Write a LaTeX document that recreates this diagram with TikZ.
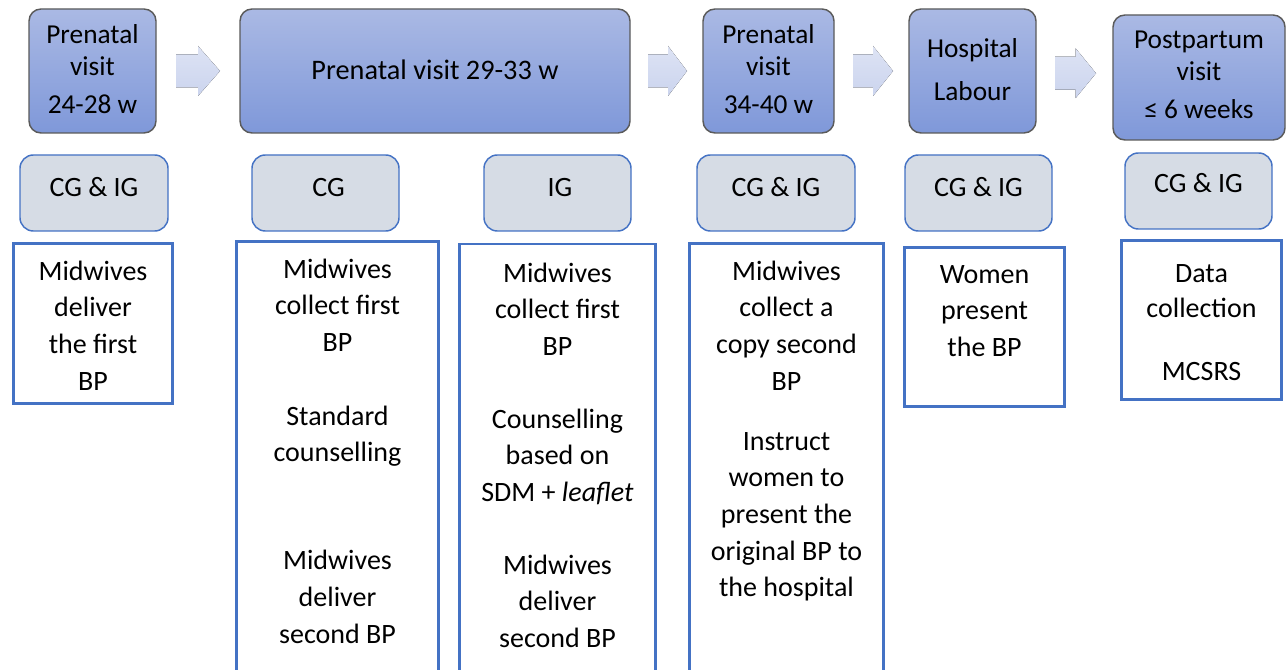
\documentclass[tikz,border=0pt]{standalone}
\usepackage{fontspec}
\setmainfont{Carlito}
\usetikzlibrary{fit,calc}
\definecolor{frameblue}{HTML}{4472C4}
\definecolor{greyfill}{HTML}{D6DCE5}
\definecolor{stageTop}{HTML}{AAB9E4}
\definecolor{stageBot}{HTML}{7F98D9}
\definecolor{stageLine}{HTML}{5A5A5A}
\definecolor{arrowTop}{HTML}{DDE3F4}
\definecolor{arrowBot}{HTML}{CBD4EE}
\tikzset{
  stage/.style={draw=stageLine, line width=1.1pt, rounded corners=9pt,
    top color=stageTop, bottom color=stageBot, inner sep=0pt},
  group/.style={draw=frameblue, line width=1.1pt, rounded corners=10pt,
    fill=greyfill, inner sep=0pt},
  panel/.style={draw=frameblue, line width=2.2pt, fill=white, inner sep=0pt},
  body/.style={font=\fontsize{21}{27.5}\selectfont, align=center,
    inner sep=0pt, anchor=north},
  head/.style={font=\fontsize{20.5}{24}\selectfont, align=center,
    inner sep=0pt, anchor=north},
  label/.style={font=\fontsize{21}{27.5}\selectfont, inner sep=0pt, anchor=base},
  flow/.style={top color=arrowTop, bottom color=arrowBot, draw=none}
}
\begin{document}
\begin{tikzpicture}[x=0.75pt, y=-0.75pt]
\useasboundingbox (0,0) rectangle (1286,670);
\fill[white] (0,0) rectangle (1286,670);
\clip (0,0) rectangle (1286,670);

% stage boxes
\node[stage, fit={(29,9) (156,133)}] (p1) {};
\node[stage, fit={(240,9) (630,133)}] (p2) {};
\node[stage, fit={(703,9) (834,133)}] (p3) {};
\node[stage, fit={(909,9) (1036,133)}] (p4) {};
\node[stage, fit={(1113,15) (1285,140)}] (p5) {};

\node[head] (h1) at (92.5,20.6) {\strut Prenatal\\visit\\[4.5pt]24-28 w};
\node[label, font=\fontsize{21.2}{24}\selectfont] (h2) at (435,80) {Prenatal visit 29-33 w};
\node[head] (h3) at (768.5,20.6) {\strut Prenatal\\visit\\[4.5pt]34-40 w};
\node[head] (h4) at (972.5,34.6) {\strut Hospital\\[8.25pt]Labour};
\node[head] (h5) at (1199,25.6) {\strut Postpartum\\visit\\[4.5pt]≤ 6 weeks};

% block arrows between stages
\coordinate (a1) at ($(p1.east)!0.5!(p2.west)$);
\coordinate (a2) at ($(p2.east)!0.5!(p3.west)+(1,0)$);
\coordinate (a3) at ($(p3.east)!0.5!(p4.west)+(1.5,0)$);
\coordinate (a4) at ($(p4.east)!0.5!(p5.west)+(1,-1)$);
\fill[flow, shift={(a1)}] (-22,-16.5) -- (0,-16.5) -- (0,-25) -- (22,0) -- (0,25) -- (0,16.5) -- (-22,16.5) -- cycle;
\fill[flow, shift={(a2)}] (-19.5,-16.5) -- (0.5,-16.5) -- (0.5,-25) -- (19.5,0) -- (0.5,25) -- (0.5,16.5) -- (-19.5,16.5) -- cycle;
\fill[flow, shift={(a3)}] (-20,-16.5) -- (0,-16.5) -- (0,-25) -- (20,0) -- (0,25) -- (0,16.5) -- (-20,16.5) -- cycle;
\fill[flow, shift={(a4)}] (-20.5,-16.5) -- (0,-16.5) -- (0,-25) -- (20.5,0) -- (0,25) -- (0,16.5) -- (-20.5,16.5) -- cycle;

% group labels
\node[group, fit={(20,155) (168,231)}] (g1) {};
\node[group, fit={(252,155) (399,231)}] (g2) {};
\node[group, fit={(484,155) (631,231)}] (g3) {};
\node[group, fit={(697,155) (855,231)}] (g4) {};
\node[group, fit={(905,155) (1052,231)}] (g5) {};
\node[group, fit={(1125,153) (1272,229)}] (g6) {};

\node[label] (l1) at (94,196.5) {CG \& IG};
\node[label] (l2) at (328.5,196.5) {CG};
\node[label] (l3) at (560,196.5) {IG};
\node[label] (l4) at (776,196.5) {CG \& IG};
\node[label] (l5) at (978.5,196.5) {CG \& IG};
\node[label] (l6) at (1198.5,193) {CG \& IG};

% activity panels
\node[panel, fit={(13.5,243.5) (172.5,403.5)}] (w1) {};
\node[panel, fit={(236.5,241.5) (438.5,700)}] (w2) {};
\node[panel, fit={(459.5,244) (655.5,700)}] (w3) {};
\node[panel, fit={(689.5,243.5) (883.5,700)}] (w4) {};
\node[panel, fit={(904.5,247.5) (1064.5,406.5)}] (w5) {};
\node[panel, fit={(1121.5,240.5) (1281.5,399.5)}] (w6) {};

\node[body] (b1) at (93,254.3) {\strut Midwives\\deliver\\the first\\BP};

\node[body] (b2a) at (337.5,252.3) {\strut Midwives\\collect first\\BP};
\node[body] (b2b) at (337.5,399.3) {\strut Standard\\counselling};
\node[body] (b2c) at (337.5,544) {\strut Midwives\\deliver\\second BP};

\node[body] (b3a) at (557.5,256.3) {\strut Midwives\\collect first\\BP};
\node[body] (b3b) at (557.5,402.3) {\strut Counselling\\based on\\SDM + \textit{leaflet}};
\node[body] (b3c) at (557.5,548.3) {\strut Midwives\\deliver\\second BP};

\node[body] (b4a) at (786.5,254.3) {\strut Midwives\\collect a\\copy second\\BP};
\node[body] (b4b) at (786.5,424.3) {\strut Instruct\\women to\\present the\\original BP to\\the hospital};

\node[body] (b5) at (984.5,257.3) {\strut Women\\present\\the BP};

\node[body, font=\fontsize{21}{26.3}\selectfont] (b6a) at (1201.5,257.5) {\strut Data\\collection};
\node[label] (b6b) at (1201.5,381) {MCSRS};
\end{tikzpicture}
\end{document}
